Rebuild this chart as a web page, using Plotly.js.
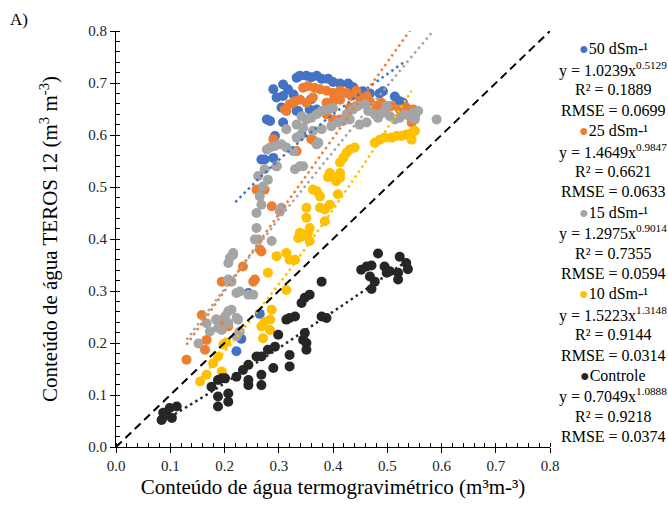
<!DOCTYPE html>
<html>
<head>
<meta charset="utf-8">
<script src="https://cdn.plot.ly/plotly-3.0.1.min.js"></script>
<style>
  html, body { margin: 0; padding: 0; background: #fff; }
  #chart { width: 668px; height: 506px; }
</style>
</head>
<body>
<div id="chart"></div>
<script>
// Sensor (TEROS 12) vs. thermogravimetric water content, by salinity level
const seriesNames = ['50 dSm-¹', '25 dSm-¹', '15 dSm-¹', '10 dSm-¹', 'Controle'];
const seriesColors = ['#4472C4', '#ED7D31', '#A5A5A5', '#FFC000', '#262626'];

// 50 dS/m
const x50 = [0.222,0.231,0.244,0.265,0.268,0.274,0.290,0.296,0.293,0.278,0.284,0.308,0.305,0.333,0.296,0.308,0.327,0.290,0.317,0.308,
  0.333,0.339,0.351,0.360,0.370,0.379,0.391,0.400,0.413,0.428,0.437,0.449,0.455,0.468,0.486,0.492,0.514,0.523,0.529,0.357,
  0.336,0.370,0.342,0.360,0.434];
const y50 = [0.184,0.208,0.296,0.256,0.553,0.553,0.556,0.540,0.598,0.630,0.627,0.624,0.653,0.646,0.672,0.675,0.678,0.688,0.688,0.697,
  0.710,0.714,0.714,0.711,0.714,0.708,0.708,0.702,0.699,0.699,0.692,0.680,0.684,0.680,0.680,0.684,0.674,0.665,0.662,0.649,
  0.646,0.649,0.601,0.669,0.681];

// 25 dS/m
const x25 = [0.130,0.158,0.167,0.164,0.185,0.198,0.207,0.195,0.234,0.256,0.253,0.265,0.268,0.287,0.259,0.274,0.290,0.314,0.327,0.311,
  0.320,0.330,0.339,0.345,0.354,0.366,0.376,0.388,0.400,0.413,0.425,0.434,0.443,0.351,0.363,0.388,0.400,0.413,0.431,0.443,
  0.455,0.468,0.480,0.489,0.499,0.508,0.523,0.535,0.548,0.551,0.545,0.413,0.388,0.400,0.360,0.366,0.333,0.449,0.462];
const y25 = [0.168,0.254,0.206,0.187,0.245,0.235,0.232,0.318,0.347,0.322,0.318,0.380,0.376,0.463,0.495,0.495,0.592,0.646,0.662,0.649,
  0.659,0.665,0.668,0.691,0.694,0.691,0.688,0.685,0.681,0.685,0.681,0.675,0.685,0.662,0.672,0.662,0.665,0.668,0.653,0.656,
  0.662,0.665,0.656,0.662,0.653,0.656,0.649,0.653,0.649,0.636,0.624,0.630,0.640,0.630,0.592,0.588,0.569,0.672,0.675];

// 15 dS/m
const x15 = [0.152,0.167,0.173,0.185,0.195,0.188,0.201,0.207,0.213,0.207,0.222,0.225,0.222,0.228,0.207,0.213,0.222,0.228,0.244,0.253,
  0.207,0.216,0.262,0.287,0.259,0.268,0.259,0.256,0.265,0.271,0.262,0.274,0.280,0.302,0.305,0.330,0.339,0.296,0.278,0.284,
  0.293,0.305,0.314,0.327,0.333,0.314,0.333,0.339,0.345,0.363,0.370,0.373,0.379,0.342,0.351,0.360,0.370,0.379,0.391,0.400,
  0.397,0.409,0.419,0.431,0.425,0.437,0.446,0.459,0.465,0.477,0.483,0.492,0.499,0.505,0.514,0.523,0.532,0.541,0.548,0.557,
  0.551,0.591,0.449,0.462,0.345,0.210,0.216];
const y15 = [0.199,0.238,0.222,0.245,0.225,0.229,0.251,0.238,0.264,0.261,0.248,0.245,0.213,0.222,0.322,0.318,0.296,0.299,0.293,0.293,
  0.354,0.370,0.399,0.396,0.450,0.466,0.421,0.399,0.482,0.501,0.521,0.534,0.514,0.453,0.460,0.534,0.540,0.540,0.572,0.576,
  0.579,0.582,0.576,0.569,0.595,0.611,0.620,0.598,0.614,0.608,0.582,0.585,0.611,0.636,0.630,0.633,0.640,0.646,0.649,0.652,
  0.617,0.624,0.627,0.630,0.640,0.649,0.656,0.659,0.646,0.640,0.633,0.643,0.656,0.636,0.630,0.633,0.640,0.636,0.643,0.646,
  0.630,0.630,0.620,0.624,0.540,0.364,0.373];

// 10 dS/m
const x10 = [0.155,0.167,0.179,0.188,0.195,0.198,0.203,0.268,0.271,0.274,0.284,0.287,0.284,0.280,0.296,0.314,0.320,0.330,0.314,0.336,
  0.339,0.342,0.354,0.357,0.357,0.351,0.351,0.376,0.385,0.385,0.394,0.363,0.370,0.376,0.391,0.394,0.403,0.406,0.409,0.413,
  0.413,0.413,0.419,0.425,0.431,0.440,0.477,0.486,0.495,0.508,0.517,0.526,0.535,0.545,0.551,0.545];
const y10 = [0.126,0.139,0.161,0.174,0.145,0.197,0.201,0.232,0.209,0.241,0.245,0.264,0.225,0.335,0.367,0.373,0.360,0.360,0.302,0.402,
  0.412,0.405,0.412,0.421,0.396,0.441,0.460,0.460,0.457,0.434,0.466,0.495,0.492,0.482,0.519,0.527,0.518,0.511,0.486,0.527,
  0.518,0.547,0.556,0.566,0.572,0.576,0.585,0.591,0.595,0.595,0.598,0.598,0.601,0.604,0.608,0.591];

// Controle
const xC = [0.084,0.087,0.093,0.099,0.103,0.112,0.176,0.188,0.195,0.201,0.188,0.207,0.188,0.207,0.222,0.234,0.244,0.244,0.244,0.259,
  0.268,0.268,0.268,0.280,0.293,0.299,0.290,0.320,0.320,0.314,0.320,0.330,0.342,0.348,0.357,0.379,0.345,0.351,0.351,0.379,
  0.388,0.348,0.483,0.523,0.535,0.538,0.452,0.462,0.471,0.495,0.499,0.505,0.520,0.520,0.468,0.477,0.471];
const yC = [0.052,0.066,0.062,0.075,0.056,0.078,0.116,0.129,0.132,0.132,0.097,0.103,0.078,0.087,0.135,0.148,0.158,0.129,0.119,0.174,
  0.174,0.139,0.119,0.187,0.193,0.216,0.152,0.177,0.155,0.245,0.248,0.251,0.277,0.287,0.293,0.318,0.206,0.200,0.187,0.251,
  0.248,0.219,0.372,0.366,0.354,0.342,0.341,0.347,0.349,0.347,0.335,0.338,0.335,0.322,0.328,0.318,0.304];

// Power fits y = a·x^b and their statistics
const fitA = [1.0239, 1.4649, 1.2975, 1.5223, 0.7049];
const fitB = [0.5129, 0.9847, 0.9014, 1.3148, 1.0888];
const fitR2 = ['0.1889', '0.6621', '0.7355', '0.9144', '0.9218'];
const fitRMSE = ['0.0699', '0.0633', '0.0594', '0.0314', '0.0374'];
const fitXmin = [0.22, 0.13, 0.13, 0.15, 0.08];
const fitXmax = [0.535, 0.55, 0.60, 0.545, 0.54];

const pointsX = [x50, x25, x15, x10, xC];
const pointsY = [y50, y25, y15, y10, yC];

const serif = 'Liberation Serif, Times New Roman, serif';
const traces = [];

// scatter of observations
for (let i = 0; i < 5; i++) {
  traces.push({
    type: 'scatter', mode: 'markers', name: seriesNames[i],
    x: pointsX[i], y: pointsY[i],
    marker: { color: seriesColors[i], size: 10, line: { width: 0 } },
    showlegend: false, hoverinfo: 'x+y'
  });
}

// dotted fit curves
for (let i = 0; i < 5; i++) {
  const xs = [], ys = [];
  const n = 60;
  for (let k = 0; k <= n; k++) {
    const xv = fitXmin[i] + (fitXmax[i] - fitXmin[i]) * k / n;
    xs.push(xv);
    ys.push(fitA[i] * Math.pow(xv, fitB[i]));
  }
  traces.push({
    type: 'scatter', mode: 'lines', x: xs, y: ys,
    line: { color: seriesColors[i], width: 2.5, dash: '2.5px,3.5px' },
    showlegend: false, hoverinfo: 'skip'
  });
}

// 1:1 reference line
traces.push({
  type: 'scatter', mode: 'lines', x: [0, 0.8], y: [0, 0.8],
  line: { color: '#000', width: 2, dash: '8px,5px' },
  showlegend: false, hoverinfo: 'skip'
});

// plot box in pixels
const W = 668, H = 506, L = 116, R = 118, T = 31, B = 59;
const plotW = W - L - R, plotH = H - T - B;
const paperX = px => (px - L) / plotW;
const paperY = py => (H - B - py) / plotH;

// legend with fit equations, one line per annotation
const annotations = [];
let row = 0;
for (let i = 0; i < 5; i++) {
  const rows = [
    `<span style="color:${seriesColors[i]}">●</span>${seriesNames[i]}`,
    `y = ${fitA[i].toFixed(4)}x<sup>${fitB[i].toFixed(4)}</sup>`,
    `R² = ${fitR2[i]}`,
    `RMSE = ${fitRMSE[i]}`
  ];
  rows.forEach(t => {
    annotations.push({
      xref: 'paper', yref: 'paper', x: paperX(613), y: paperY(49 + 20.4 * row),
      xanchor: 'center', yanchor: 'middle', showarrow: false,
      text: t, font: { family: serif, size: 16, color: '#000' }
    });
    row++;
  });
}

// panel label
annotations.push({
  xref: 'paper', yref: 'paper', x: paperX(8), y: paperY(20),
  xanchor: 'left', yanchor: 'middle', showarrow: false,
  text: 'A)', font: { family: serif, size: 17, color: '#000' }
});

const axisCommon = {
  range: [0, 0.8], dtick: 0.1, tick0: 0, tickformat: '.1f',
  showgrid: false, zeroline: false,
  showline: true, linecolor: '#000', linewidth: 1,
  ticks: 'outside', ticklen: 5, tickwidth: 1, tickcolor: '#000',
  tickfont: { family: serif, size: 15, color: '#222' },
  minor: { dtick: 0.02, ticks: 'inside', ticklen: 4, tickwidth: 1, tickcolor: '#000', showgrid: false },
  fixedrange: true
};

const overlayTicks = {
  range: [0, 0.8], dtick: 0.1, tick0: 0, showgrid: false, zeroline: false,
  showline: false, showticklabels: false,
  ticks: 'inside', ticklen: 4, tickwidth: 1, tickcolor: '#000', fixedrange: true
};

const layout = {
  width: W, height: H,
  margin: { l: L, r: R, t: T, b: B, pad: 0 },
  paper_bgcolor: '#fff', plot_bgcolor: '#fff',
  showlegend: false,
  xaxis: Object.assign({}, axisCommon, {
    title: { text: 'Conteúdo de água termogravimétrico (m³m-³)', font: { family: serif, size: 21, color: '#000' }, standoff: 6 }
  }),
  yaxis: Object.assign({}, axisCommon, {
    title: { text: 'Conteúdo de água TEROS 12 (m<sup>3</sup> m<sup>-3</sup>)', font: { family: serif, size: 21, color: '#000' }, standoff: 24 }
  }),
  xaxis2: Object.assign({}, overlayTicks, { overlaying: 'x', anchor: 'y', side: 'bottom' }),
  yaxis2: Object.assign({}, overlayTicks, { overlaying: 'y', anchor: 'x', side: 'left' }),
  annotations: annotations
};

Plotly.newPlot('chart', traces, layout, { displayModeBar: false, staticPlot: true });
</script>
</body>
</html>
